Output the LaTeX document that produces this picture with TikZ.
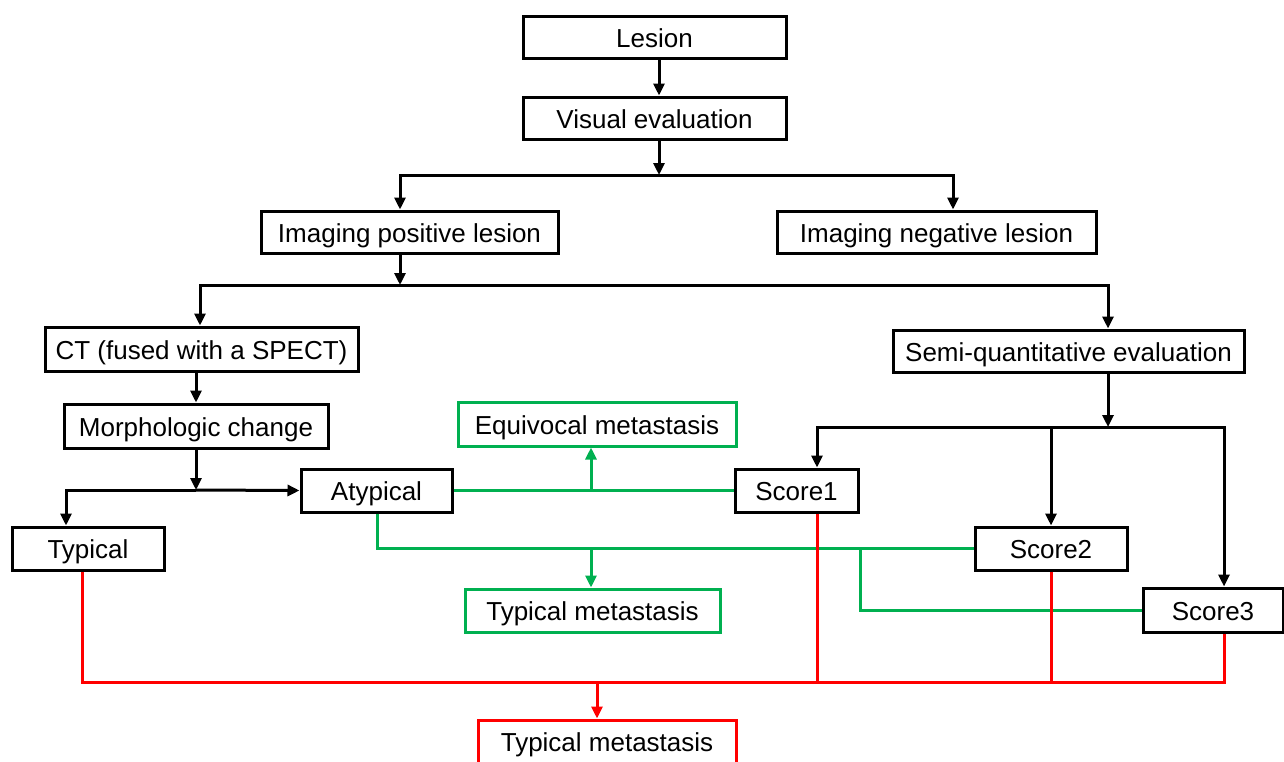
\documentclass[tikz,border=0pt]{standalone}
\usepackage{fontspec}
\setmainfont{Liberation Sans}
\usetikzlibrary{arrows.meta,calc}
\definecolor{mygreen}{RGB}{0,176,80}
\definecolor{myred}{RGB}{255,0,0}
\tikzset{
 box/.style={draw=black, line width=3pt, inner sep=0pt, font=\fontsize{26}{30}\selectfont, text=black, text height=20.5pt, text depth=0pt},
 gbox/.style={box, draw=mygreen},
 rbox/.style={box, draw=myred},
 conn/.style={line width=3pt, draw=black},
 arr/.style={conn, -{Triangle[length=12pt,width=11pt]}},
 gconn/.style={conn, draw=mygreen},
 garr/.style={arr, draw=mygreen, fill=mygreen},
 rconn/.style={conn, draw=myred},
 rarr/.style={arr, draw=myred, fill=myred},
}
\newcommand\mybox[6]{\node[#1, minimum width=#4pt, minimum height=#5pt] (#2) at (#3) {#6};}
\begin{document}
\begin{tikzpicture}[x=1pt,y=-1pt]
\useasboundingbox (0,0) rectangle (1284,761);
\fill[white] (0,0) rectangle (1284,761);
% nodes
\mybox{box}{lesion}{654.5,37}{263}{42}{Lesion}
\mybox{box}{visual}{654.5,118}{263}{42}{Visual evaluation}
\mybox{box}{pos}{409.5,232}{297}{42}{Imaging positive lesion}
\mybox{box}{neg}{936.5,232}{319}{42}{Imaging negative lesion}
\mybox{box}{ct}{201.5,349}{313}{44}{CT (fused with a SPECT)}
\mybox{box}{semi}{1068.5,351}{351}{42}{Semi-quantitative evaluation}
\mybox{box}{morph}{196,426}{264}{44}{Morphologic change}
\mybox{gbox}{equiv}{597,424}{278}{44}{Equivocal metastasis}
\mybox{box}{atyp}{376.5,490.5}{151}{43}{Atypical}
\mybox{box}{score1}{796.5,490.5}{123}{43}{Score1}
\mybox{box}{typical}{88,548.5}{152}{43}{Typical}
\mybox{box}{score2}{1051,548.5}{152}{43}{Score2}
\mybox{gbox}{typmet}{592.5,610.5}{255}{43}{Typical metastasis}
\mybox{box}{score3}{1213,610}{140}{44}{Score3}
\mybox{rbox}{redmet}{607,741.5}{258}{43}{Typical metastasis}
% junction coordinates
\coordinate (j1) at (659,175);
\coordinate (j1L) at (400,175);
\coordinate (j1R) at (953,175);
\coordinate (j2) at (400,285);
\coordinate (j2L) at (200,285);
\coordinate (j2R) at (1108,285);
\coordinate (j3) at (196,490);
\coordinate (j3L) at (66,490);
\coordinate (j4) at (1108,427);
\coordinate (j4L) at (817,427);
\coordinate (j4R) at (1224,427);
\coordinate (g1) at (591,490.5);
\coordinate (g2) at (377,548.5);
\coordinate (g3) at (591,548.5);
\coordinate (g4) at (860,548.5);
\coordinate (g5) at (860,610);
\coordinate (r0) at (82,682);
\coordinate (r1) at (1224,682);
\coordinate (r2) at (597,682);
% black connectors
\draw[arr] (lesion.south -| j1) -- (visual.north -| j1);
\draw[arr] (visual.south -| j1) -- (j1);
\draw[arr] (j1) -- (j1L) -- (pos.north -| j1L);
\draw[arr] (j1) -- (j1R) -- (neg.north -| j1R);
\draw[arr] (pos.south -| j2) -- (j2);
\draw[arr] (j2) -- (j2L) -- (ct.north -| j2L);
\draw[arr] (j2) -- (j2R) -- (semi.north -| j2R);
\draw[arr] (ct.south -| morph.north) -- (morph.north);
\draw[arr] (morph.south) -- (j3);
\draw[arr] (j3) -- (atyp.west);
\draw[arr] (j3) -- (j3L) -- (typical.north -| j3L);
\draw[arr] (semi.south -| j4) -- (j4);
\draw[arr] (j4) -- (j4L) -- (score1.north -| j4L);
\draw[arr] (j4) -- (j4R) -- (score3.north -| j4R);
\draw[arr] (score2.north |- j4) -- (score2.north);
% green connectors
\draw[gconn] (atyp.east) -- (score1.west);
\draw[garr] (g1) -- (equiv.south -| g1);
\draw[gconn] (atyp.south -| g2) -- (g2) -- (score2.west);
\draw[garr] (g3) -- (typmet.north -| g3);
\draw[gconn] (g4) -- (g5) -- (score3.west);
% red connectors
\draw[rconn] (typical.south -| r0) -- (r0) -- (r1) -- (score3.south -| r1);
\draw[rconn] (score1.south -| j4L) -- (j4L |- r0);
\draw[rconn] (score2.south) -- (score2.south |- r0);
\draw[rarr] (r2) -- (redmet.north -| r2);
\end{tikzpicture}
\end{document}
